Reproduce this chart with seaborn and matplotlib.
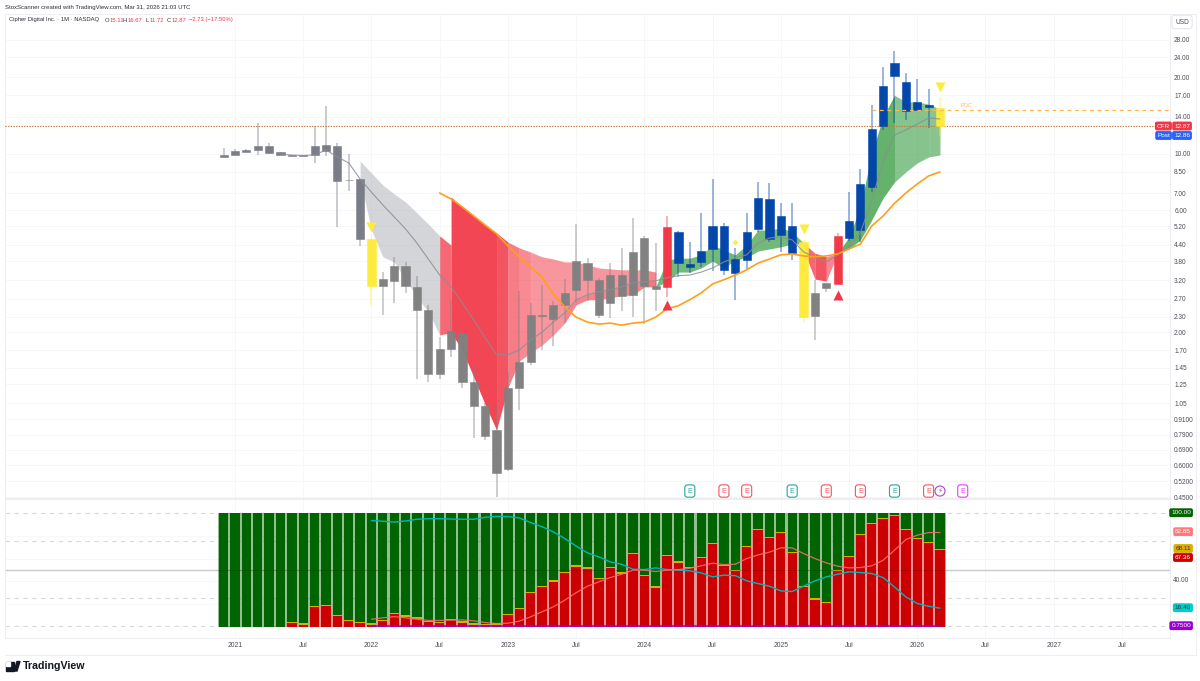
import seaborn as sns
from matplotlib import pyplot as plt
from matplotlib.patches import Rectangle, Polygon
from matplotlib.lines import Line2D
from matplotlib.ticker import NullLocator

# Monthly bars, month 0 = Jan 2021
months = list(range(-1, 63))

opens = [9.76, 9.94, 10.2, 10.39, 10.75, 10.15, 9.91, 9.85, 9.91, 10.82, 10.78, 7.93, 7.95,
         4.63, 3.04, 3.16, 3.64, 3.0, 2.44, 1.37, 1.72, 1.98, 1.27, 1.03, 0.827,
         0.58, 1.21, 1.53, 2.33, 2.25, 2.55, 2.93, 3.72, 3.21, 2.6, 2.77, 2.79,
         3.04, 3.04, 3.0, 4.96, 3.71, 3.78, 4.22, 5.22, 3.4, 3.84, 5.06, 6.66,
         4.81, 5.22, 4.51, 2.31, 2.97, 3.1, 4.69, 5.03, 7.4, 12.84, 20.3, 19.2,
         14.88, 15.32, 15.11]
highs = [10.55, 10.43, 10.49, 13.2, 11.07, 10.2, 9.95, 9.95, 12.88, 15.4, 11.0, 9.97, 8.0,
         4.7, 3.44, 3.93, 3.78, 3.33, 2.56, 1.92, 2.68, 2.0, 1.49, 1.05, 1.035,
         1.4, 2.9, 2.6, 3.05, 2.65, 3.24, 5.31, 3.92, 3.25, 3.74, 4.26, 5.59,
         4.78, 4.46, 5.73, 5.0, 4.53, 5.88, 7.98, 5.38, 4.26, 5.85, 7.74, 7.67,
         6.44, 6.44, 4.6, 3.21, 3.13, 4.89, 7.07, 8.71, 15.57, 21.9, 25.4, 20.7,
         19.6, 17.9, 16.67]
lows = [9.73, 9.92, 10.18, 9.91, 10.0, 9.88, 9.8, 9.8, 9.24, 9.82, 5.16, 7.18, 4.37,
        2.56, 2.33, 2.6, 2.84, 1.31, 1.27, 1.31, 1.6, 1.21, 0.77, 0.756, 0.45,
        0.57, 0.99, 1.48, 1.7, 1.77, 2.17, 2.63, 2.64, 2.28, 2.28, 2.41, 2.3,
        2.16, 2.41, 2.75, 3.3, 3.41, 3.6, 3.46, 3.35, 2.68, 3.49, 4.92, 4.53,
        4.11, 3.84, 2.2, 1.86, 2.88, 3.08, 4.56, 4.53, 7.11, 12.42, 13.2, 13.6,
        14.85, 12.68, 11.72]
closes = [9.91, 10.25, 10.37, 10.78, 10.06, 9.91, 9.85, 9.9, 10.75, 10.31, 7.86, 7.87, 4.63,
          3.04, 3.22, 3.64, 3.04, 2.44, 1.37, 1.72, 2.02, 1.27, 1.03, 0.78, 0.56,
          1.21, 1.53, 2.33, 2.32, 2.55, 2.86, 3.8, 3.19, 2.33, 3.34, 3.35, 4.14,
          4.69, 2.96, 5.16, 3.72, 3.6, 4.15, 5.22, 3.51, 3.87, 4.93, 6.7, 4.64,
          5.73, 4.07, 2.3, 2.84, 3.12, 4.78, 5.45, 7.62, 12.57, 18.55, 22.8, 14.75,
          15.95, 15.57, 12.87]
bar_state = (["slate"] * 13 + ["warn"] + ["gray"] * 25 + ["bear"] + ["bull"] * 11 + ["warn"]
             + ["gray"] * 2 + ["bear"] + ["bull"] * 8 + ["warn"])

sma_months = list(range(4, 63))
sma = [10.0, 9.9, 9.87, 9.91, 10.37, 9.73, 9.22, 7.98, 7.08, 6.31, 5.66, 5.08, 4.47, 3.87, 3.35,
       3.01, 2.6, 2.23, 1.9, 1.63, 1.63, 1.7, 1.86, 2.0, 2.19, 2.38, 2.68, 2.8, 2.88, 2.93,
       3.01, 3.12, 3.15, 3.18, 3.27, 3.33, 3.35, 3.44, 3.57, 3.77, 3.92, 4.02, 4.47, 4.68, 4.72,
       4.6, 4.13, 3.92, 3.77, 4.02, 4.32, 4.9, 6.6, 9.3, 11.87, 12.42, 13.1, 13.84, 13.71]

ema_months = list(range(18, 63))
ema = [7.03, 6.66, 6.19, 5.71, 5.26, 4.86, 4.36, 3.95, 3.6, 3.29, 2.82, 2.51, 2.29, 2.19, 2.15,
       2.17, 2.13, 2.17, 2.19, 2.29, 2.47, 2.54, 2.68, 2.85, 3.09, 3.21, 3.35, 3.51, 3.73, 3.87,
       4.02, 4.05, 3.98, 3.95, 3.98, 4.05, 4.24, 4.43, 5.22, 5.71, 6.4, 7.03, 7.62, 8.2, 8.5]

# Cloud pieces: (first month, top values, bottom values)
gray_start = 11
gray_top = [9.38, 8.42, 7.55, 6.97, 6.48, 5.87, 5.31, 4.77]
gray_bot = [7.98, 5.03, 3.95, 3.77, 3.21, 2.75, 2.4, 1.95]
red_a_start = 18
red_a_top = [4.77, 4.39]
red_a_bot = [1.95, 1.99]
red_b_start = 19
red_b_top = [6.78, 6.19, 5.71, 5.26, 4.9, 4.51, 4.28, 4.12, 3.95, 3.87, 3.77, 3.77, 3.67, 3.57,
             3.54, 3.51, 3.51, 3.51, 3.44]
red_b_bot = [1.99, 1.7, 1.33, 1.04, 0.827, 1.21, 1.54, 1.66, 1.78, 1.95, 2.17, 2.56, 2.68, 2.68,
             2.73, 2.78, 2.8, 3.01, 3.01]
green_a_start = 37
green_a_top = [3.01, 3.84, 3.9, 3.9, 4.02, 4.39, 4.2, 4.02, 4.39, 5.03, 5.03, 5.13, 4.95, 4.47]
green_a_bot = [3.01, 3.16, 3.44, 3.44, 3.57, 3.8, 3.57, 3.84, 3.92, 4.16, 4.24, 4.32, 4.43, 4.43]
red_c_start = 50
red_c_top = [4.47, 4.08, 3.95, 4.08]
red_c_bot = [4.2, 3.23, 3.17, 4.08]
green_b_start = 53
green_b_top = [4.08, 4.72, 6.19, 10.1, 13.97, 17.0, 16.0, 16.0, 15.7, 15.0]
green_b_bot = [4.08, 4.24, 4.6, 5.51, 6.72, 7.76, 8.5, 9.22, 9.73, 9.91]

# Lower pane
stoch_red = [0, 0, 0, 0, 0, 0,
             3, 2, 17.6, 18.4, 9.7, 5.3, 3.2, 2, 4.7, 11.4, 9, 7.3, 4.4, 3.5, 5.6, 3.8, 2, 1.5, 2,
             10.5, 15.5, 29.3, 34.8, 39.8, 47.4, 53, 51.2, 41.8, 51.5, 46.8, 63.8, 44.8, 34.5, 62,
             56.5, 51.8, 60.6, 72.6, 53.6, 49.2, 70, 84.9, 77.8, 82.2, 65, 35.1, 24, 21, 49.2, 61.5,
             80.8, 90.1, 94.5, 97.5, 84.9, 77, 73.7, 67.36]
stoch_yellow = [0, 0, 0, 0, 0, 0,
                4, 3, 18.6, 19.4, 10.7, 6.3, 4.2, 3, 5.7, 12.4, 10, 8.3, 5.4, 4.5, 6.6, 4.8, 3, 2.5, 3,
                11.5, 16.5, 30.3, 35.8, 40.8, 48.4, 54, 52.2, 42.8, 52.5, 47.8, 64.8, 45.8, 35.5, 63,
                57.5, 52.8, 61.6, 73.6, 54.6, 50.2, 71, 85.9, 78.8, 83.2, 66, 36.1, 25, 22, 50.2, 62.5,
                81.8, 91.1, 95.5, 98.5, 85.9, 78, 74.7, 68.11]
stoch_green = [100] * 64
osc_months = list(range(12, 63))
cyan_line = [93.4, 92.8, 92, 93, 94.5, 95, 95, 94.7, 94.5, 94.5, 96.3, 97, 96.9, 95.7, 91.6, 88, 83.4,
             77.6, 71, 65, 61.5, 57, 55, 50.6, 50.3, 51.8, 50.3, 49.8, 49.2, 47.4, 43.9, 45.4, 45,
             40.4, 38, 35.7, 31.6, 31, 35.7, 40.4, 43.9, 46.2, 48.3, 47.7, 46.8, 43.3, 35, 26.3,
             20.5, 18.1, 16.4]
salmon_line = [6.7, 7.9, 9, 7.9, 6.7, 5.6, 5.6, 5.9, 6.1, 5.3, 3.8, 2.9, 3.2, 5, 8.8, 13.2, 17.6,
               23.4, 30, 35.7, 39.5, 43.3, 46.2, 49.8, 49.8, 48.6, 49.8, 50.3, 51.5, 53.6, 55.9,
               54.7, 55, 60, 63.2, 65.6, 69.4, 69.4, 64.4, 60, 56.2, 53.3, 51.8, 52.1, 53.6, 58.5,
               67.3, 76.7, 80.5, 82.8, 82.85]
purple_line = [0.75] * 51

price_ticks = [28, 24, 20, 17, 14, 10, 8.5, 7, 6, 5.2, 4.4, 3.8, 3.2, 2.7, 2.3, 2.0, 1.7, 1.45, 1.25,
               1.05, 0.91, 0.79, 0.69, 0.6, 0.52, 0.45]
price_labels = ["28.00", "24.00", "20.00", "17.00", "14.00", "10.00", "8.50", "7.00", "6.00", "5.20",
                "4.40", "3.80", "3.20", "2.70", "2.30", "2.00", "1.70", "1.45", "1.25", "1.05",
                "0.9100", "0.7900", "0.6900", "0.6000", "0.5200", "0.4500"]
time_ticks = [0, 6, 12, 18, 24, 30, 36, 42, 48, 54, 60, 66, 72, 78]
time_labels = ["2021", "Jul", "2022", "Jul", "2023", "Jul", "2024", "Jul", "2025", "Jul", "2026", "Jul",
               "2027", "Jul"]

earn_months = [40, 43, 45, 49, 52, 55, 58, 61]
earn_beat = [True, False, False, True, False, False, True, False]

last_price = 12.87
poc_level = 14.88

STATE_COLORS = {"slate": "#787b86", "gray": "#808080", "bull": "#0044aa", "bear": "#f23645", "warn": "#ffeb3b"}
GRID = "#f6f7f9"
TXT = "#4a4d57"

sns.set_theme(style="white")
plt.rcParams["font.family"] = ["Liberation Sans", "DejaVu Sans"]

W, H = 1200, 681
fig = plt.figure(figsize=(W / 100, H / 100), dpi=100, facecolor="white")
ax = fig.add_axes([5 / W, 1 - 498 / H, 1165 / W, 484 / H])
low = fig.add_axes([5 / W, 1 - 638 / H, 1165 / W, 139 / H], sharex=ax)


def px_text(x, y, s, **kw):
    kw.setdefault("fontsize", 4.7)
    kw.setdefault("va", "center")
    kw.setdefault("color", TXT)
    return fig.text(x / W, 1 - y / H, s, **kw)


def tag(x, y, s, bg, fg="white", ha="right"):
    px_text(x, y, s, color=fg, ha=ha, fontsize=4.6,
            bbox=dict(boxstyle="round,pad=0.3", fc=bg, ec="none"), zorder=10)


# --- cloud ---
def cloud(start, top, bot, color, alphas):
    # one polygon per run of equal opacity, so no seams show between months
    xs = list(range(start, start + len(top)))
    if not isinstance(alphas, list):
        alphas = [alphas] * (len(top) - 1)
    i = 0
    while i < len(alphas):
        j = i
        while j + 1 < len(alphas) and alphas[j + 1] == alphas[i]:
            j += 1
        ax.fill_between(xs[i:j + 2], top[i:j + 2], bot[i:j + 2], color=color, alpha=alphas[i], lw=0, zorder=2)
        i = j + 1


ax.set_yscale("log")
cloud(gray_start, gray_top, gray_bot, "#a9acb4", 0.5)
cloud(red_a_start, red_a_top, red_a_bot, "#f23645", 0.75)
cloud(red_b_start, red_b_top, red_b_bot, "#f23645",
      [0.92, 0.92, 0.92, 0.92, 0.85, 0.65, 0.58, 0.52, 0.52, 0.52, 0.52, 0.52, 0.52, 0.52, 0.52, 0.52, 0.52, 0.6])
# darker lower half of the fading red section
sma_part = sma[29 - 4:38 - 4]
cloud(29, sma_part, red_b_bot[29 - 19:], "#f23645", 0.18)
cloud(green_a_start, green_a_top, green_a_bot, "#3d9f46", 0.72)
cloud(red_c_start, red_c_top, red_c_bot, "#f23645", [0.75, 0.85, 0.6])
cloud(green_b_start, green_b_top, green_b_bot, "#3d9f46", [0.8, 0.8, 0.8, 0.8, 0.8, 0.62, 0.62, 0.62, 0.6])

# --- candles ---
for m, o, h, l, c, s in zip(months, opens, highs, lows, closes, bar_state):
    col = STATE_COLORS[s]
    ax.vlines(m, l, h, color=col, alpha=0.42, lw=1.3, zorder=3)
    ax.bar(m, abs(c - o), bottom=min(o, c), width=0.72, color=col, edgecolor=col, alpha=0.98, lw=0.4, zorder=4)

sns.lineplot(x=sma_months, y=sma, color="#8b8d94", linewidth=0.8, alpha=0.85, ax=ax, zorder=5)
sns.lineplot(x=ema_months, y=ema, color="#ff9f1c", linewidth=1.2, ax=ax, zorder=5)

# signal markers
sns.scatterplot(x=[12, 50, 62], y=[5.17, 5.08, 18.3], marker="v", s=52, color="#ffeb3b", linewidth=0, ax=ax, zorder=6)
sns.scatterplot(x=[38, 53], y=[2.56, 2.79], marker="^", s=52, color="#f23645", linewidth=0, ax=ax, zorder=6)
sns.scatterplot(x=[44], y=[4.51], marker="D", s=9, color="#ffeb3b", linewidth=0, ax=ax, zorder=6)

ax.axhline(last_price, color="#c9773c", lw=0.8, ls=(0, (1.2, 1.2)), zorder=3)
ax.plot([56, 82.2], [poc_level, poc_level], color="#ffb84d", lw=0.9, ls=(0, (3, 3)), zorder=6)
ax.text(64.3, 15.2, "POC", color="#ffb84d", fontsize=4, ha="center", va="bottom", zorder=7)

ax.set_ylim(0.447, 35.4)
ax.set_xlim(-20.23, 82.23)
ax.yaxis.tick_right()
ax.set_yticks(price_ticks, labels=price_labels)
ax.yaxis.set_minor_locator(NullLocator())
ax.tick_params(axis="y", length=0, pad=3, labelsize=4.7, labelcolor=TXT)
ax.tick_params(axis="x", length=0, labelbottom=False)
ax.set_xticks(time_ticks)
ax.grid(True, color=GRID, lw=0.7, zorder=0)
ax.set_axisbelow(True)
for sp in ax.spines.values():
    sp.set_color("#eceef1")
    sp.set_linewidth(0.7)

# --- lower pane ---
# washed-out backing at full width gives the soft gaps between the columns
sns.barplot(x=months, y=stoch_green, native_scale=True, color="#006400", saturation=1, width=1.0, alpha=0.42,
            linewidth=0, ax=low, zorder=2)
sns.barplot(x=months, y=stoch_red, native_scale=True, color="#ffffff", saturation=1, width=1.0,
            linewidth=0, ax=low, zorder=2.2)
sns.barplot(x=months, y=stoch_red, native_scale=True, color="#cc0000", saturation=1, width=1.0, alpha=0.42,
            linewidth=0, ax=low, zorder=2.4)
sns.barplot(x=months, y=stoch_green, native_scale=True, color="#006400", saturation=1, width=0.82,
            linewidth=0, ax=low, zorder=3)
sns.barplot(x=months, y=stoch_yellow, native_scale=True, color="#dcae00", saturation=1, width=0.82,
            linewidth=0, ax=low, zorder=3.5)
sns.barplot(x=months, y=stoch_red, native_scale=True, color="#cc0000", saturation=1, width=0.82,
            linewidth=0, ax=low, zorder=4)
sns.lineplot(x=osc_months, y=cyan_line, color="#00b4bc", linewidth=1.0, ax=low, zorder=6)
sns.lineplot(x=osc_months, y=salmon_line, color="#ff6f6f", linewidth=0.9, alpha=0.85, ax=low, zorder=6)
sns.lineplot(x=osc_months, y=purple_line, color="#a000c8", linewidth=1.5, alpha=0.8, ax=low, zorder=6)

for lvl in [100, 75, 25, 0.75]:
    low.axhline(lvl, color="#d6d8dc", lw=0.8, ls=(0, (4, 4)), zorder=1)
low.axhline(50, color="#c9cbd0", lw=1.0, zorder=1)
low.plot([-1.5, 62.5], [50, 50], color="#000000", lw=0.5, alpha=0.18, zorder=5)

low.set_ylim(-9.8, 112.3)
low.set_xlim(-20.23, 82.23)
low.set_xlabel("")
low.set_ylabel("")
low.set_xticks(time_ticks, labels=time_labels)
low.set_yticks([20, 40, 60, 80])
low.set_yticklabels([])
low.tick_params(axis="both", length=0)
low.tick_params(axis="x", labelsize=4.9, labelcolor=TXT, pad=3)
low.grid(True, color=GRID, lw=0.7, zorder=0)
low.set_axisbelow(True)
for sp in low.spines.values():
    sp.set_color("#eceef1")
    sp.set_linewidth(0.7)

# earnings badges above the lower pane
for m, beat in zip(earn_months, earn_beat):
    col = "#26a69a" if beat else "#f7525f"
    ax.text(m, 0.476, "E", color=col, fontsize=5, ha="center", va="center", zorder=8,
            bbox=dict(boxstyle="round,pad=0.38", fc="white", ec=col, lw=0.8))
ax.text(62, 0.476, "\u26a1", color="#ab47bc", fontsize=5, ha="center", va="center", zorder=8,
        bbox=dict(boxstyle="circle,pad=0.22", fc="white", ec="#ab47bc", lw=0.8))
ax.text(64, 0.476, "E", color="#e040fb", fontsize=5, ha="center", va="center", zorder=8,
        bbox=dict(boxstyle="round,pad=0.38", fc="white", ec="#e040fb", lw=0.8))

# --- header ---
px_text(5, 7, "StoxScanner created with TradingView.com, Mar 31, 2026 21:03 UTC", fontsize=4.35, color="#2a2e39")
px_text(9, 20, "Cipher Digital Inc. \u00b7 1M \u00b7 NASDAQ", fontsize=4.2, color="#2a2e39")
for x, s, c in [(105, "O", "#2a2e39"), (110, "15.11", "#f23645"), (123, "H", "#2a2e39"), (128, "16.67", "#f23645"),
                (146, "L", "#2a2e39"), (150, "11.72", "#f23645"), (167, "C", "#2a2e39"), (172, "12.87", "#f23645"),
                (189, "\u22122.73 (\u221217.50%)", "#f23645")]:
    px_text(x, 20, s, fontsize=4.2, color=c)

# --- price axis tags ---
px_text(1182, 22, "USD", fontsize=4.7, ha="center",
        bbox=dict(boxstyle="round,pad=0.5", fc="white", ec="#e0e3eb", lw=0.7))
tag(1170, 126, "CFR", "#f23645")
tag(1190, 126, "12.87", "#f23645")
tag(1170, 135.5, "Post", "#2962ff")
tag(1190, 135.5, "12.86", "#2962ff")

tag(1191, 512.7, "100.00", "#006400")
tag(1191, 531.7, "82.85", "#ff7a7a")
tag(1191, 548.5, "68.11", "#dcae00", fg="#333333")
tag(1191, 557.5, "67.36", "#cc0000")
px_text(1181, 580, "40.00", ha="center")
tag(1191, 607.7, "16.40", "#00cccc", fg="#333333")
tag(1191, 625.7, "0.7500", "#9c00d0")

fig.add_artist(Line2D([1196 / W, 1196 / W], [1 - 655 / H, 1 - 14 / H], color="#eceef1", lw=0.7))
fig.add_artist(Line2D([5 / W, 1196 / W], [1 - 14 / H, 1 - 14 / H], color="#eceef1", lw=0.7))
fig.add_artist(Line2D([5 / W, 1196 / W], [1 - 655 / H, 1 - 655 / H], color="#eceef1", lw=0.7))

# --- TradingView mark ---
fig.add_artist(Rectangle((6 / W, 1 - 671 / H), 7.5 / W, 9.5 / H, color="#131722", transform=fig.transFigure))
fig.add_artist(Rectangle((6 / W, 1 - 666 / H), 3.5 / W, 4.5 / H, color="white", transform=fig.transFigure))
fig.add_artist(Polygon([(14 / W, 1 - 671 / H), (17 / W, 1 - 661.5 / H), (20 / W, 1 - 661.5 / H), (17 / W, 1 - 671 / H)],
                       closed=True, color="#131722", transform=fig.transFigure))
px_text(23, 666, "TradingView", fontsize=7.7, fontweight="bold", color="#131722")

fig.savefig("out.png", dpi=100)
